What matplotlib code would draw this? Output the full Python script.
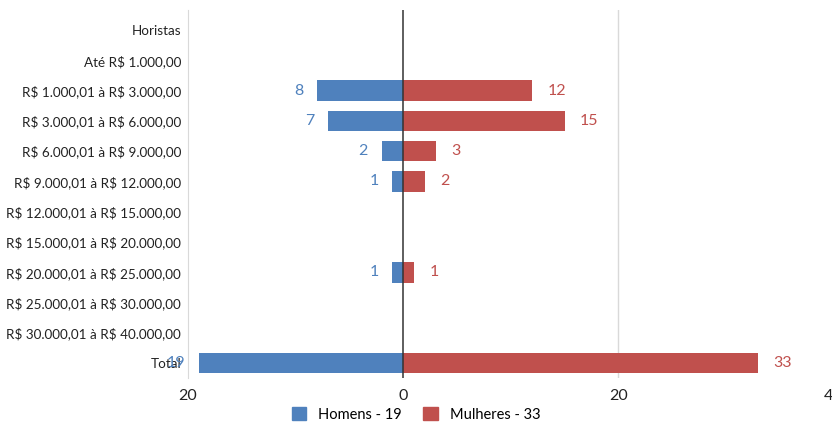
import numpy as np
import matplotlib.pyplot as plt
from matplotlib.patches import Patch

# Faixas salariais (de cima para baixo)
faixas = [
    "Horistas",
    "Até R$ 1.000,00",
    "R$ 1.000,01 à R$ 3.000,00",
    "R$ 3.000,01 à R$ 6.000,00",
    "R$ 6.000,01 à R$ 9.000,00",
    "R$ 9.000,01 à R$ 12.000,00",
    "R$ 12.000,01 à R$ 15.000,00",
    "R$ 15.000,01 à R$ 20.000,00",
    "R$ 20.000,01 à R$ 25.000,00",
    "R$ 25.000,01 à R$ 30.000,00",
    "R$ 30.000,01 à R$ 40.000,00",
    "Total",
]
homens = [0, 0, 8, 7, 2, 1, 0, 0, 1, 0, 0, 19]
mulheres = [0, 0, 12, 15, 3, 2, 0, 0, 1, 0, 0, 33]

azul = "#4F81BD"
vermelho = "#C0504D"

plt.rcParams['font.family'] = ['Lato', 'DejaVu Sans']

fig = plt.figure(figsize=(8.32, 4.23), dpi=100)
ax = fig.add_axes([0.226, 0.106, 0.776, 0.87])

y = np.arange(len(faixas))
b_h = ax.barh(y, -np.array(homens), height=0.68, color=azul)
b_m = ax.barh(y, mulheres, height=0.68, color=vermelho)

ax.bar_label(b_h, labels=[str(v) if v else "" for v in homens],
             padding=10, color=azul, fontsize=11.5)
ax.bar_label(b_m, labels=[str(v) if v else "" for v in mulheres],
             padding=11, color=vermelho, fontsize=11.5)

ax.set_xlim(-20, 40)
ax.set_ylim(11.5, -0.66)
ax.set_yticks(y)
# escapar o cifrão para não virar mathtext
ax.set_yticklabels([f.replace("$", r"\$") for f in faixas], fontsize=9.7,
                   color="#222222")
ax.set_xticks([-20, 0, 20, 40])
ax.set_xticklabels(["20", "0", "20", "40"], fontsize=11.5, color="#222222")
ax.tick_params(axis='y', length=0, pad=5)
ax.tick_params(axis='x', length=0, pad=8)

for s in ["top", "right", "bottom"]:
    ax.spines[s].set_visible(False)
ax.spines["left"].set_color("#D9D9D9")
ax.axvline(20, color="#D9D9D9", lw=1, zorder=0)
ax.axvline(40, color="#D9D9D9", lw=1, zorder=0)
ax.axvline(0, color="#333333", lw=1.1, zorder=3)

fig.legend(handles=[Patch(color=azul, label="Homens - 19"),
                    Patch(color=vermelho, label="Mulheres - 33")],
           loc="center", bbox_to_anchor=(0.5, 0.02), ncol=2, frameon=False,
           fontsize=10.5, handlelength=1.0, handleheight=1.0, columnspacing=1.5)

fig.savefig("out.png", dpi=100)
